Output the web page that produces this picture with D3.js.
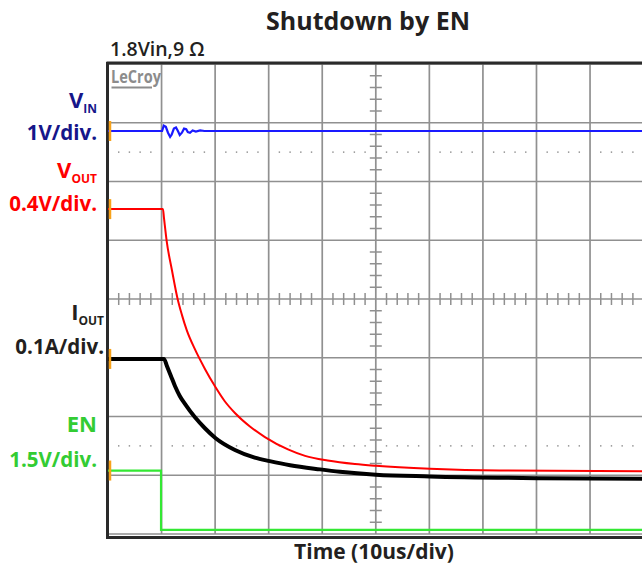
<!DOCTYPE html>
<html>
<head>
<meta charset="utf-8">
<script src="https://cdn.jsdelivr.net/npm/d3@7"></script>
<style>
  html, body { margin: 0; padding: 0; background: #fff; }
  svg { display: block; }
  text { font-family: "Open Sans", "Noto Sans", sans-serif; }
</style>
</head>
<body>
<svg id="chart" width="642" height="565"></svg>
<script>
// ---- data (time in us, level in screen divisions from bottom graticule) ----
const titleText = "Shutdown by EN";
const conditionText = "1.8Vin,9 \u03A9";
const xAxisLabel = "Time (10us/div)";

const vinTime = [0, 10.1, 10.4, 10.8, 11.2, 11.6, 11.9, 12.3, 12.7, 13.1, 13.4, 13.8, 14.2, 14.6, 14.9, 15.3, 15.8, 16.4, 17.2, 18, 100];
const vinLevel = [6.86, 6.86, 6.95, 6.93, 6.83, 6.76, 6.80, 6.90, 6.92, 6.85, 6.79, 6.83, 6.90, 6.89, 6.84, 6.83, 6.87, 6.85, 6.87, 6.86, 6.86];

const voutTime = [0, 10.26, 10.45, 10.95, 11.94, 13.0, 13.8, 14.7, 16.2, 18.1, 20.0, 21.8, 23.7, 26.5, 29.3, 33.6, 36.8, 41.0, 46.1, 50.0, 60.1, 73.1, 100];
const voutLevel = [5.53, 5.53, 5.38, 4.99, 4.49, 4.00, 3.73, 3.47, 3.15, 2.81, 2.51, 2.26, 2.06, 1.83, 1.65, 1.44, 1.33, 1.25, 1.19, 1.16, 1.11, 1.08, 1.07];

const ioutTime = [0, 10.45, 11.0, 11.75, 12.5, 13.4, 14.4, 16.2, 18.1, 20.1, 23.7, 27.4, 30.2, 34.0, 39.6, 43.3, 50.0, 60.1, 80.6, 100];
const ioutLevel = [2.98, 2.98, 2.86, 2.69, 2.52, 2.35, 2.21, 1.99, 1.80, 1.63, 1.43, 1.30, 1.24, 1.17, 1.10, 1.06, 1.01, 0.98, 0.95, 0.94];

const enTime = [0, 9.9, 9.9, 100];
const enLevel = [1.08, 1.08, 0.07, 0.07];

const channelNames = ["V", "V", "I", "EN"];
const channelSubs = ["IN", "OUT", "OUT", ""];
const channelScales = ["1V/div.", "0.4V/div.", "0.1A/div.", "1.5V/div."];

// ---- layout ----
const svg = d3.select("#chart");
const x = d3.scaleLinear().domain([0, 100]).range([108, 643.6]);
const y = d3.scaleLinear().domain([0, 8]).range([534, 64]);

const gridColor = "#909090";
const frameColor = "#2a2a2a";

// grid
const g = svg.append("g");
g.selectAll(".vg").data(d3.range(0, 101, 10)).join("line")
  .attr("x1", d => x(d)).attr("x2", d => x(d))
  .attr("y1", y(8)).attr("y2", y(0))
  .attr("stroke", gridColor).attr("stroke-width", 1.7);
g.selectAll(".hg").data(d3.range(0, 9, 1)).join("line")
  .attr("x1", x(0)).attr("x2", x(100))
  .attr("y1", d => y(d)).attr("y2", d => y(d))
  .attr("stroke", gridColor).attr("stroke-width", 1.7);

// center cross minor ticks
const minorX = d3.range(0, 100.01, 2).filter(d => d % 10 !== 0);
const minorY = d3.range(0, 8.001, 0.2).filter(d => Math.abs(d - Math.round(d)) > 0.01);
g.selectAll(".tx").data(minorX).join("line")
  .attr("x1", d => x(d)).attr("x2", d => x(d))
  .attr("y1", y(4) - 6).attr("y2", y(4) + 6)
  .attr("stroke", gridColor).attr("stroke-width", 1.5);
g.selectAll(".ty").data(minorY).join("line")
  .attr("x1", x(50) - 6).attr("x2", x(50) + 6)
  .attr("y1", d => y(d)).attr("y2", d => y(d))
  .attr("stroke", gridColor).attr("stroke-width", 1.5);

// dotted rows
[6.5, 1.5].forEach(lv => {
  g.selectAll(null).data(minorX.filter(d => d !== 50)).join("rect")
    .attr("x", d => x(d) - 0.7).attr("y", y(lv) - 0.7)
    .attr("width", 1.4).attr("height", 1.4)
    .attr("fill", "#8a8a8a");
});

// frame
svg.append("line").attr("x1", 106.5).attr("x2", 642).attr("y1", 63).attr("y2", 63)
  .attr("stroke", frameColor).attr("stroke-width", 3);
svg.append("line").attr("x1", 107.5).attr("x2", 107.5).attr("y1", 62).attr("y2", 538.5)
  .attr("stroke", frameColor).attr("stroke-width", 3);
svg.append("line").attr("x1", 106).attr("x2", 642).attr("y1", 537.5).attr("y2", 537.5)
  .attr("stroke", frameColor).attr("stroke-width", 3);

// LeCroy logo
svg.append("text").attr("x", 111).attr("y", 83)
  .attr("font-family", "DejaVu Sans, sans-serif").attr("font-weight", 700)
  .attr("font-size", 17).attr("fill", "#8c8c8c")
  .attr("textLength", 50).attr("lengthAdjust", "spacingAndGlyphs")
  .text("LeCroy");
svg.append("line").attr("x1", 111.5).attr("x2", 152).attr("y1", 87.5).attr("y2", 87.5)
  .attr("stroke", "#8c8c8c").attr("stroke-width", 2);

// traces
const line = d3.line().x(d => x(d[0])).y(d => y(d[1])).curve(d3.curveMonotoneX);
const lineLin = d3.line().x(d => x(d[0])).y(d => y(d[1]));
const zip = (a, b) => a.map((v, i) => [v, b[i]]);

svg.append("path").datum(zip(enTime, enLevel)).attr("d", lineLin)
  .attr("fill", "none").attr("stroke", "#33e833").attr("stroke-width", 2.2);
svg.append("path").datum(zip(ioutTime, ioutLevel)).attr("d", line)
  .attr("fill", "none").attr("stroke", "#000").attr("stroke-width", 4);
svg.append("path").datum(zip(voutTime, voutLevel)).attr("d", line)
  .attr("fill", "none").attr("stroke", "#ff0000").attr("stroke-width", 2);
svg.append("path").datum(zip(vinTime, vinLevel)).attr("d", lineLin)
  .attr("fill", "none").attr("stroke", "#1a1aff").attr("stroke-width", 2.2);

// level markers
const markerLevels = [vinLevel[0], voutLevel[0], ioutLevel[0], enLevel[0]];
svg.selectAll(".mk").data(markerLevels).join("line")
  .attr("x1", 110).attr("x2", 110)
  .attr("y1", d => y(d) - 10).attr("y2", d => y(d) + 10)
  .attr("stroke", "#f7a21b").attr("stroke-width", 2.5);

// channel labels
const labelColors = ["#16168a", "#ff0000", "#231f20", "#33cc33"];
const nameBase = [108, 178, 320, 432];
const scaleBase = [140, 211, 354, 467];
const labelRight = [97, 97, 104, 97];
channelNames.forEach((nm, i) => {
  const t = svg.append("text").attr("x", labelRight[i]).attr("y", nameBase[i])
    .attr("text-anchor", "end").attr("font-weight", 700)
    .attr("font-size", 22).attr("fill", labelColors[i]);
  t.append("tspan").text(nm);
  if (channelSubs[i]) {
    t.append("tspan").attr("font-size", 12).attr("dy", 5).text(channelSubs[i]);
  }
  svg.append("text").attr("x", labelRight[i]).attr("y", scaleBase[i])
    .attr("text-anchor", "end").attr("font-weight", 700)
    .attr("font-size", 20.5).attr("fill", labelColors[i])
    .text(channelScales[i]);
});

// title & texts
svg.append("text").attr("x", 368).attr("y", 30).attr("text-anchor", "middle")
  .attr("font-weight", 700).attr("font-size", 25).attr("fill", "#231f20")
  .text(titleText);
svg.append("text").attr("x", 110).attr("y", 56)
  .attr("font-weight", 600).attr("font-size", 19.5).attr("fill", "#231f20")
  .text(conditionText);
svg.append("text").attr("x", 374).attr("y", 559).attr("text-anchor", "middle")
  .attr("font-weight", 700).attr("font-size", 21).attr("fill", "#231f20")
  .text(xAxisLabel);
</script>
</body>
</html>
